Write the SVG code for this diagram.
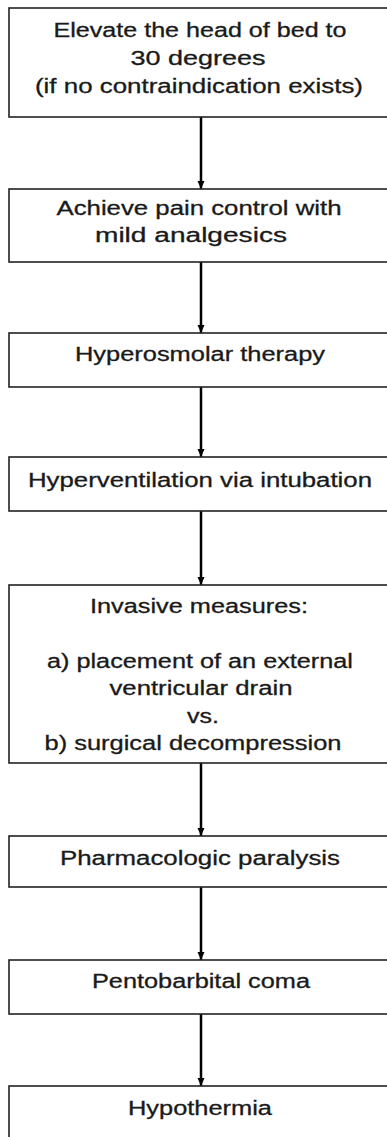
<svg xmlns="http://www.w3.org/2000/svg" width="387" height="1137" viewBox="0 0 387 1137">
<style>
.box{fill:#fff;stroke:#222;stroke-width:1.6}
.t{font-family:"Liberation Sans",Arial,sans-serif;font-size:20px;fill:#1a1a1a;stroke:#1a1a1a;stroke-width:0.3;text-anchor:middle}
.c{stroke:#000;stroke-width:2.5;fill:none}
</style>
<defs>
<marker id="ah" markerUnits="userSpaceOnUse" markerWidth="10" markerHeight="8" refX="9" refY="4" orient="auto" viewBox="0 0 10 8">
<path d="M1,0.5 L9,4 L1,7.5 Z" fill="#000"/>
</marker>
</defs>
<rect width="387" height="1137" fill="#fff"/>
<g id="connectors">
<line class="c" x1="201" y1="117" x2="201" y2="189" marker-end="url(#ah)"/>
<line class="c" x1="201" y1="262" x2="201" y2="333" marker-end="url(#ah)"/>
<line class="c" x1="201" y1="387" x2="201" y2="457" marker-end="url(#ah)"/>
<line class="c" x1="201" y1="511" x2="201" y2="585" marker-end="url(#ah)"/>
<line class="c" x1="201" y1="763" x2="201" y2="836" marker-end="url(#ah)"/>
<line class="c" x1="201" y1="887" x2="201" y2="960" marker-end="url(#ah)"/>
<line class="c" x1="201" y1="1014" x2="201" y2="1086" marker-end="url(#ah)"/>
</g>
<g id="n1">
<rect class="box" x="9" y="8" width="400" height="109"/>
<g transform="scale(1.25,1)">
<text class="t" x="160" y="37" textLength="234.4" lengthAdjust="spacingAndGlyphs">Elevate the head of bed to</text>
<text class="t" x="158.4" y="65" textLength="108" lengthAdjust="spacingAndGlyphs">30 degrees</text>
<text class="t" x="159.2" y="93" textLength="262.4" lengthAdjust="spacingAndGlyphs">(if no contraindication exists)</text>
</g>
</g>
<g id="n2">
<rect class="box" x="9" y="189" width="400" height="73"/>
<g transform="scale(1.25,1)">
<text class="t" x="159.2" y="215" textLength="228" lengthAdjust="spacingAndGlyphs">Achieve pain control with</text>
<text class="t" x="152.8" y="242" textLength="153.6" lengthAdjust="spacingAndGlyphs">mild analgesics</text>
</g>
</g>
<g id="n3">
<rect class="box" x="9" y="333" width="400" height="54"/>
<g transform="scale(1.25,1)">
<text class="t" x="160" y="361" textLength="200" lengthAdjust="spacingAndGlyphs">Hyperosmolar therapy</text>
</g>
</g>
<g id="n4">
<rect class="box" x="9" y="457" width="400" height="54"/>
<g transform="scale(1.25,1)">
<text class="t" x="160" y="487" textLength="275.2" lengthAdjust="spacingAndGlyphs">Hyperventilation via intubation</text>
</g>
</g>
<g id="n5">
<rect class="box" x="9" y="585" width="400" height="178"/>
<g transform="scale(1.25,1)">
<text class="t" x="159.2" y="613" textLength="174.4" lengthAdjust="spacingAndGlyphs">Invasive measures:</text>
<text class="t" x="160" y="668" textLength="244.8" lengthAdjust="spacingAndGlyphs">a) placement of an external</text>
<text class="t" x="160.8" y="695" textLength="146.4" lengthAdjust="spacingAndGlyphs">ventricular drain</text>
<text class="t" x="162.4" y="723">vs.</text>
<text class="t" x="154.4" y="750" textLength="237.6" lengthAdjust="spacingAndGlyphs">b) surgical decompression</text>
</g>
</g>
<g id="n6">
<rect class="box" x="9" y="836" width="400" height="51"/>
<g transform="scale(1.25,1)">
<text class="t" x="160" y="865" textLength="224" lengthAdjust="spacingAndGlyphs">Pharmacologic paralysis</text>
</g>
</g>
<g id="n7">
<rect class="box" x="9" y="960" width="400" height="54"/>
<g transform="scale(1.25,1)">
<text class="t" x="160.8" y="988" textLength="174.4" lengthAdjust="spacingAndGlyphs">Pentobarbital coma</text>
</g>
</g>
<g id="n8">
<rect class="box" x="9" y="1086" width="400" height="80"/>
<g transform="scale(1.25,1)">
<text class="t" x="160" y="1115" textLength="115.2" lengthAdjust="spacingAndGlyphs">Hypothermia</text>
</g>
</g>
</svg>
